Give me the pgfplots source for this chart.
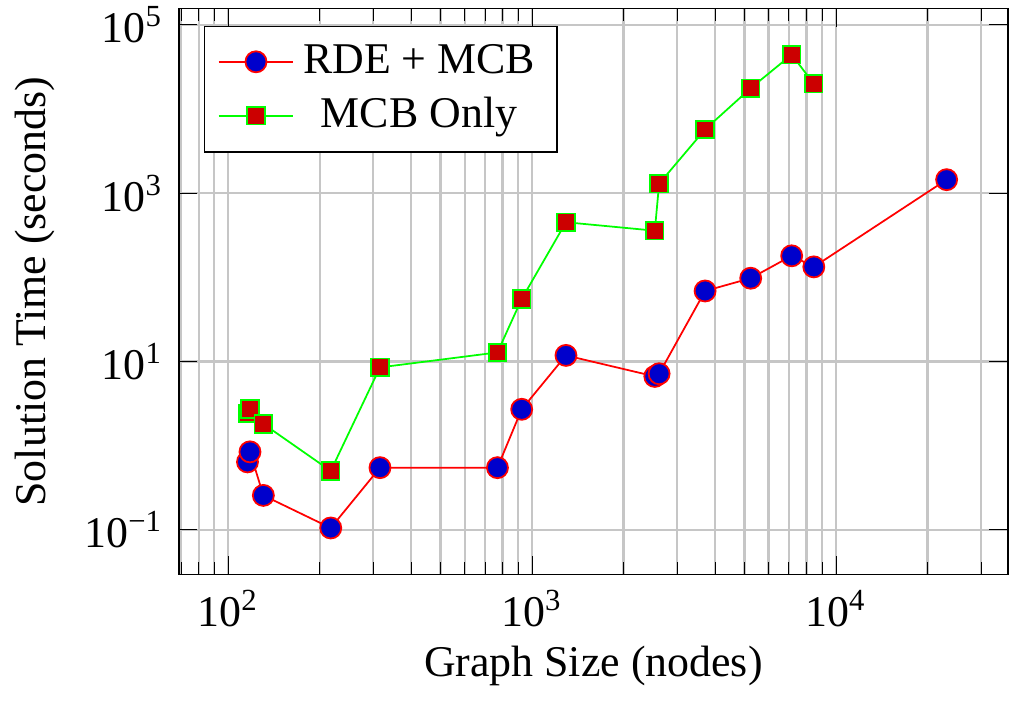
\documentclass[border=0pt]{standalone}
\usepackage{fontspec}
\setmainfont{Liberation Serif}
\usepackage{pgfplots}
\pgfplotsset{compat=1.18}
\definecolor{mkblue}{rgb}{0,0,0.8}
\definecolor{mkred}{rgb}{0.8,0,0}
\begin{document}
\begin{tikzpicture}
\begin{axis}[
  scale only axis, width=189pt, height=129pt,
  xmode=log, ymode=log,
  xmin=68.8, xmax=36800, ymin=0.0294, ymax=156000,
  xtick={100,1000,10000},
  xticklabels={10\textsuperscript{2},10\textsuperscript{3},10\textsuperscript{4}},
  minor xtick={70,80,90,200,300,400,500,600,700,800,900,2000,3000,4000,5000,6000,7000,8000,9000,20000,30000},
  ytick={0.1,10,1000,100000},
  yticklabels={10\textsuperscript{−1},10\textsuperscript{1},10\textsuperscript{3},10\textsuperscript{5}},
  yticklabel style={inner ysep=1.5pt},
  yminorticks=false,
  xmajorgrids=true, xminorgrids=true, ymajorgrids=true,
  grid style={gray!45, line width=0.5pt},
  minor grid style={gray!45, line width=0.5pt},
  tick style={black},
  xlabel={Graph Size (nodes)},
  xlabel style={yshift=2.5pt},
  ylabel={Solution Time (seconds)},
  legend pos=north west,
  legend cell align=center,
  legend style={draw=black},
]
\addplot[red, mark=*, mark size=2.4pt, mark options={fill=mkblue, draw=red}] coordinates {
(115.8,0.64) (118,0.843) (130.6,0.256) (217.6,0.105) (316,0.547) (769.6,0.547)
(924.5,2.70) (1293,11.8) (2535,6.64) (2619,7.15) (3711,68.8) (5242,97.5)
(7150,180) (8456,133) (23130,1446)
};
\addlegendentry{RDE + MCB}
\addplot[green, mark=square*, mark size=2pt, mark options={fill=mkred, draw=green}] coordinates {
(115.8,2.42) (118,2.73) (130.6,1.81) (217.6,0.50) (316,8.5) (769.6,12.8)
(924.5,55.2) (1293,451) (2535,358) (2619,1295) (3711,5720) (5242,17670)
(7150,44200) (8456,19900)
};
\addlegendentry{MCB Only}
\end{axis}
\end{tikzpicture}
\end{document}
